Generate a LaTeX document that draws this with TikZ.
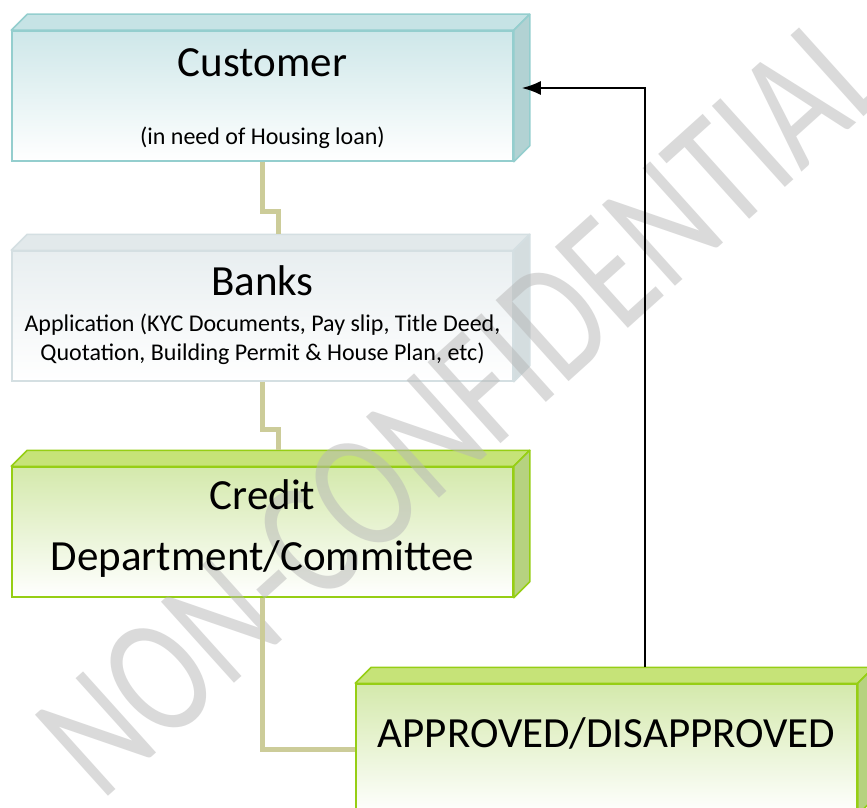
\documentclass[tikz,border=0pt]{standalone}
\usepackage{fontspec}
\setmainfont{Carlito}
\usepackage{xcolor}
\usetikzlibrary{positioning,arrows.meta}
\definecolor{tealline}{RGB}{148,206,206}
\definecolor{tealtop}{RGB}{198,227,229}
\definecolor{tealside}{RGB}{178,210,211}
\definecolor{tealfront}{RGB}{206,231,233}
\definecolor{greyline}{RGB}{212,223,226}
\definecolor{greytop}{RGB}{226,233,235}
\definecolor{greyside}{RGB}{212,221,223}
\definecolor{greyfront}{RGB}{232,238,240}
\definecolor{limeline}{RGB}{150,206,20}
\definecolor{limetop}{RGB}{198,227,120}
\definecolor{limeside}{RGB}{182,210,128}
\definecolor{limefront}{RGB}{212,233,172}
\definecolor{khaki}{RGB}{204,204,153}
\definecolor{wmgrey}{RGB}{182,182,182}
\tikzset{
  front/.style={rectangle, minimum width=501pt, minimum height=130pt,
    inner sep=0pt, line width=1.5pt, bottom color=white},
  head/.style={font=\fontsize{43}{61}\selectfont, align=center},
  small/.style={font=\fontsize{24}{29}\selectfont, align=center},
  link/.style={khaki, line width=5pt},
  feedback/.style={black, line width=2pt, -{Latex[length=19pt,width=14pt]}}
}
% top and side faces of a box: node, top colour, side colour, edge colour
\newcommand{\boxfaces}[4]{%
  \filldraw[fill=#2, draw=#4, line width=1.5pt, line join=round]
    (#1.north west) -- ++(16,16) -- ([shift={(16,16)}]#1.north east)
    -- (#1.north east) -- cycle;
  \filldraw[fill=#3, draw=#4, line width=1.5pt, line join=round]
    (#1.north east) -- ++(16,16) -- ([shift={(16,16)}]#1.south east)
    -- (#1.south east) -- cycle;
}

\begin{document}
\begin{tikzpicture}[x=1pt,y=1pt]
 \useasboundingbox[fill=white] (0,0) rectangle (867,-808);
 % boxes
 \node[front, draw=tealline, top color=tealfront] (cust) at (262.5,-96) {};
 \boxfaces{cust}{tealtop}{tealside}{tealline}
 \node[front, draw=greyline, top color=greyfront] (bank) at (262.5,-316) {};
 \boxfaces{bank}{greytop}{greyside}{greyline}
 \node[front, draw=limeline, top color=limefront] (cred) at (262.5,-532) {};
 \boxfaces{cred}{limetop}{limeside}{limeline}
 \node[front, draw=limeline, top color=limefront] (appr) at (606.5,-749) {};
 \boxfaces{appr}{limetop}{limeside}{limeline}
 % watermark
 \node[rotate=42, text=wmgrey, opacity=0.5] (wm) at (463,-404)
   {\scalebox{0.76}[1]{\fontsize{170}{170}\selectfont NON-CONFIDENTIAL}};
 % texts
 \node[head] (custT) at ([yshift=-32]cust.north) {Customer};
 \node[small] (custS) at ([yshift=-108]cust.north) {(in need of Housing loan)};
 \node[head] (bankT) at ([yshift=-30]bank.north) {Banks};
 \node[small] (bankS) at ([yshift=-89]bank.north)
   {Application (KYC Documents, Pay slip, Title Deed,\\
    Quotation, Building Permit \& House Plan, etc)};
 \node[head] (credT) at ([yshift=3]cred.center) {Credit\\Department/Committee};
 \node[head] (apprT) at ([yshift=16]appr.center) {APPROVED/DISAPPROVED};
 % connectors
 \draw[link] (cust.south) -- ++(0,-50) -| ([shift={(16,16)}]bank.north);
 \draw[link] (bank.south) -- ++(0,-48) -| ([shift={(16,16)}]cred.north);
 \draw[link] (cred.south) |- (appr.west);
 \coordinate (back) at ([shift={(38,16)}]appr.north);
 \coordinate (side) at ([shift={(8,8)}]cust.east);
 \draw[feedback] (back) |- (side);
\end{tikzpicture}
\end{document}
